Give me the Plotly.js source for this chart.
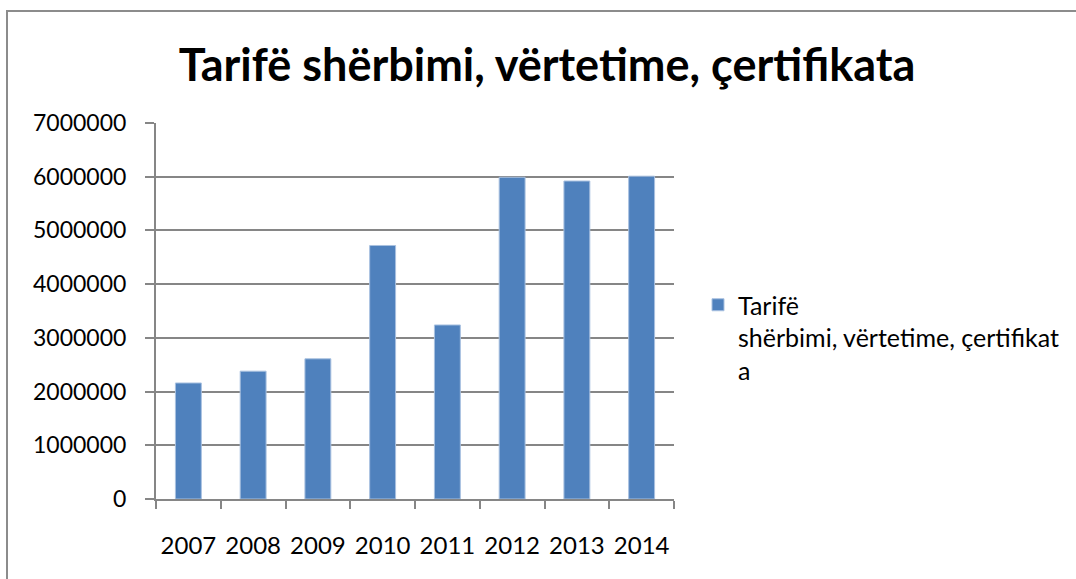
<!DOCTYPE html>
<html>
<head>
<meta charset="utf-8">
<script src="https://cdn.plot.ly/plotly-3.0.1.min.js"></script>
<style>
  body { margin: 0; background: #fff; }
  #wrap { position: relative; width: 1076px; height: 579px; overflow: hidden; }
  #frame { position: absolute; left: 6px; top: 10px; width: 1200px; height: 700px;
           border-left: 2px solid #8c8c8c; border-top: 2px solid #8c8c8c; pointer-events: none; }
</style>
</head>
<body>
<div id="wrap">
  <div id="graph" style="width:1076px;height:579px;"></div>
  <div id="frame"></div>
</div>
<script>
// values
const years = ['2007', '2008', '2009', '2010', '2011', '2012', '2013', '2014'];
const tarife = [2160000, 2380000, 2610000, 4720000, 3240000, 5990000, 5920000, 6010000];
const seriesName = 'Tarifë<br>shërbimi, vërtetime, çertifikat<br>a';
const chartTitle = 'Tarifë shërbimi, vërtetime, çertifikata';

const font = 'Lato, "Open Sans", sans-serif';
const grey = '#868686';

const trace = {
    x: years,
    y: tarife,
    type: 'bar',
    name: seriesName,
    marker: {color: '#4f81bd', line: {color: '#a9c1e0', width: 1}},
    showlegend: true
};

const layout = {
    width: 1076,
    height: 579,
    margin: {l: 156, r: 402, t: 123, b: 80, autoexpand: false},
    paper_bgcolor: '#fff',
    plot_bgcolor: '#fff',
    font: {family: font, size: 23, color: '#000'},
    title: {
        text: '<b>' + chartTitle + '</b>',
        font: {family: font, size: 45, color: '#000'},
        x: 547 / 1076, xref: 'container', xanchor: 'center',
        y: 1 - 65 / 579, yref: 'container', yanchor: 'middle'
    },
    bargap: 0.6,
    xaxis: {
        type: 'category',
        automargin: false,
        tickangle: 0,
        showline: true, linecolor: grey, linewidth: 2,
        ticks: 'outside', tickson: 'boundaries', ticklen: 8, tickcolor: grey, tickwidth: 2,
        ticklabelstandoff: 24,
        showgrid: false,
        tickfont: {size: 24}
    },
    yaxis: {
        automargin: false,
        range: [0, 7000000],
        dtick: 1000000,
        tickformat: 'd',
        showline: true, linecolor: grey, linewidth: 2,
        ticks: 'outside', ticklen: 9, tickcolor: grey, tickwidth: 2,
        ticklabelstandoff: 14,
        showgrid: true, gridcolor: grey, gridwidth: 2,
        zeroline: false,
        tickfont: {size: 23}
    },
    legend: {
        x: (698 - 156) / 518, xanchor: 'left',
        y: (499 - 282) / 376, yanchor: 'top',
        valign: 'top',
        font: {size: 25},
        bgcolor: 'rgba(0,0,0,0)'
    }
};

Plotly.newPlot('graph', [trace], layout, {displayModeBar: false, staticPlot: true});
</script>
</body>
</html>
